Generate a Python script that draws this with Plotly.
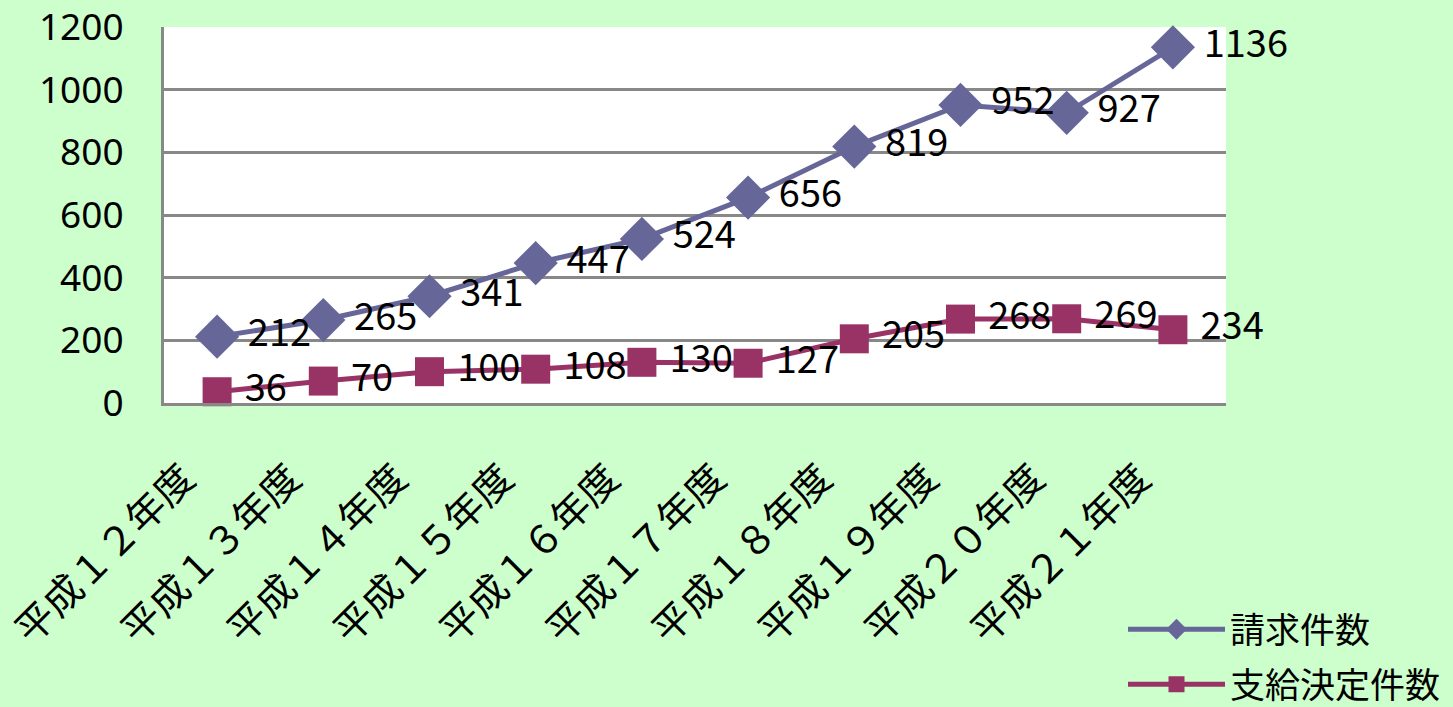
import plotly.graph_objects as go

categories = ["平成１２年度", "平成１３年度", "平成１４年度", "平成１５年度", "平成１６年度",
              "平成１７年度", "平成１８年度", "平成１９年度", "平成２０年度", "平成２１年度"]
seikyu = [212, 265, 341, 447, 524, 656, 819, 952, 927, 1136]
shikyu = [36, 70, 100, 108, 130, 127, 205, 268, 269, 234]
y_ticks = [0, 200, 400, 600, 800, 1000, 1200]

FONT = "Noto Sans CJK JP"
W, H = 1453, 707

fig = go.Figure()
fig.add_trace(go.Scatter(
    x=categories, y=seikyu, name="請求件数", mode="lines+markers+text",
    line=dict(color="#666699", width=5),
    marker=dict(symbol="diamond", size=34, color="#666699"),
    text=[f" {v}" for v in seikyu], textposition="middle right",
    textfont=dict(family=FONT, size=38, color="black"),
    cliponaxis=False, legend="legend",
))
fig.add_trace(go.Scatter(
    x=categories, y=shikyu, name="支給決定件数", mode="lines+markers+text",
    line=dict(color="#993366", width=5),
    marker=dict(symbol="square", size=29, color="#993366"),
    text=[f" {v}" for v in shikyu], textposition="middle right",
    textfont=dict(family=FONT, size=38, color="black"),
    cliponaxis=False, legend="legend2",
))

fig.update_layout(
    width=W, height=H,
    showlegend=True,
    margin=dict(l=164, r=227, t=27, b=304, autoexpand=False),
    paper_bgcolor="#CCFFCC",
    plot_bgcolor="white",
    font=dict(family=FONT, size=36, color="black"),
    xaxis=dict(
        type="category", range=[-0.5, 9.5],
        tickmode="array", tickvals=categories,
        ticktext=[c + "\u3000\u00a0" for c in categories],
        showgrid=False, showline=True, linecolor="#888888", linewidth=3,
        tickangle=-45, ticks="", tickfont=dict(family=FONT, size=39),
        ticklabelstandoff=0, ticklabeloverflow="allow",
    ),
    yaxis=dict(
        range=[0, 1201], tickvals=y_ticks,
        showgrid=True, gridcolor="#888888", gridwidth=3,
        showline=True, linecolor="#888888", linewidth=3,
        ticks="", tickfont=dict(family="Noto Sans", size=37),
        ticklabelstandoff=30, zeroline=False, ticklabeloverflow="allow",
    ),
    legend=dict(
        xref="container", yref="container", x=1123 / W, y=1 - 600 / H,
        xanchor="left", yanchor="top", bgcolor="rgba(0,0,0,0)",
        font=dict(family=FONT, size=35), itemwidth=97,
    ),
    legend2=dict(
        xref="container", yref="container", x=1123 / W, y=1 - 655 / H,
        xanchor="left", yanchor="top", bgcolor="rgba(0,0,0,0)",
        font=dict(family=FONT, size=35), itemwidth=97,
    ),
)

fig.write_html("out.html")
